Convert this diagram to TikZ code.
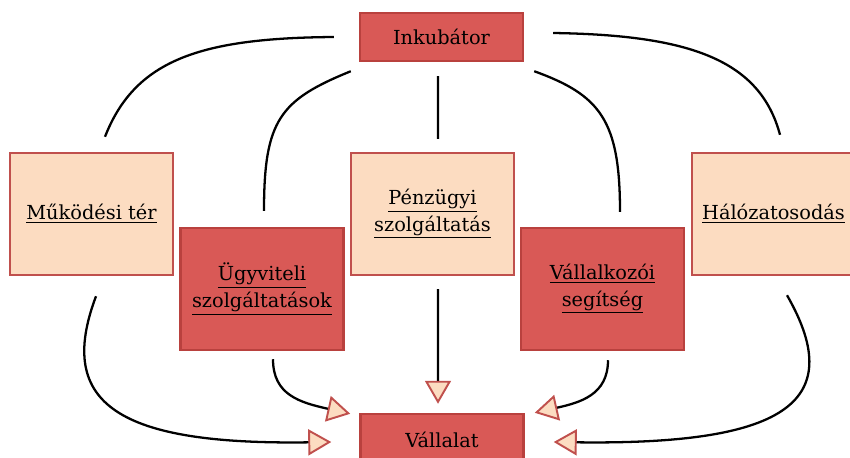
\documentclass[tikz,border=0pt]{standalone}
\usepackage{fontspec}
\setmainfont{DejaVu Serif}
\usepackage{tikz}
\usetikzlibrary{arrows.meta,calc}

\definecolor{darkfill}{HTML}{D95956}
\definecolor{darkline}{HTML}{B9413E}
\definecolor{peachfill}{HTML}{FCDCC1}
\definecolor{peachline}{HTML}{C0504D}

\begin{document}
\begin{tikzpicture}[
    box/.style={draw, line width=1.4pt, minimum width=3.26cm, minimum height=2.44cm,
        inner sep=0pt, align=center, font=\fontsize{11}{15}\selectfont},
    softbox/.style={box, fill=peachfill, draw=peachline},
    hardbox/.style={box, fill=darkfill, draw=darkline},
    link/.style={line width=1.3pt},
    arr/.style={link, -{Triangle[length=0.46cm, width=0.52cm, fill=peachfill, color=peachline, line width=1.1pt]}}
]
    \useasboundingbox (0,0) rectangle (17,-9.14);

    % boxes
    \node[hardbox, minimum height=0.96cm] (ink) at (8.83,-0.74) {Inkubátor};
    \node[softbox] (mukodes) at (1.83,-4.28) {\underline{Működési tér}};
    \node[softbox] (penz) at (8.65,-4.28) {\underline{Pénzügyi}\\\underline{szolgáltatás}};
    \node[softbox] (halo) at (15.47,-4.28) {\underline{Hálózatosodás}};
    \node[hardbox] (ugyv) at (5.24,-5.78) {\underline{Ügyviteli}\\\underline{szolgáltatások}};
    \node[hardbox] (vallk) at (12.05,-5.78) {\underline{Vállalkozói}\\\underline{segítség}};
    \node[hardbox, minimum height=1.04cm] (vallalat) at (8.84,-8.8) {Vállalat};

    % Inkubator to the services
    \draw[link] ([xshift=-0.5cm]ink.west) .. controls (4,-0.76) and (2.7,-1.2) .. ([shift={(0.27,0.3)}]mukodes.north);
    \draw[link] ([shift={(-0.16,-0.18)}]ink.south west) .. controls (5.6,-2) and (5.28,-2.4) .. ([shift={(0.04,0.32)}]ugyv.north);
    \draw[link] ([shift={(-0.07,-0.28)}]ink.south) -- ([shift={(0.11,0.26)}]penz.north);
    \draw[link] ([shift={(0.2,-0.18)}]ink.south east) .. controls (12,-1.9) and (12.4,-2.4) .. ([shift={(0.35,0.3)}]vallk.north);
    \draw[link] ([shift={(0.58,0.08)}]ink.east) .. controls (13.8,-0.7) and (15.2,-1.2) .. ([shift={(0.13,0.34)}]halo.north);

    % services to Vallalat
    \draw[arr] ([shift={(0.09,-0.4)}]mukodes.south) .. controls (1.1,-8.1) and (2.4,-8.9) .. ([shift={(-0.56,-0.04)}]vallalat.west);
    \draw[arr] ([shift={(0.22,-0.16)}]ugyv.south) .. controls (5.46,-7.9) and (6,-8.05) .. ([shift={(-0.18,-0.02)}]vallalat.north west);
    \draw[arr] ([shift={(0.11,-0.26)}]penz.south) -- ([shift={(-0.08,0.18)}]vallalat.north);
    \draw[arr] ([shift={(0.11,-0.18)}]vallk.south) .. controls (12.16,-7.9) and (11.6,-8.05) .. ([shift={(0.2,0)}]vallalat.north east);
    \draw[arr] ([shift={(0.27,-0.38)}]halo.south) .. controls (17,-8.1) and (15.6,-8.9) .. ([shift={(0.58,-0.04)}]vallalat.east);
\end{tikzpicture}
\end{document}
